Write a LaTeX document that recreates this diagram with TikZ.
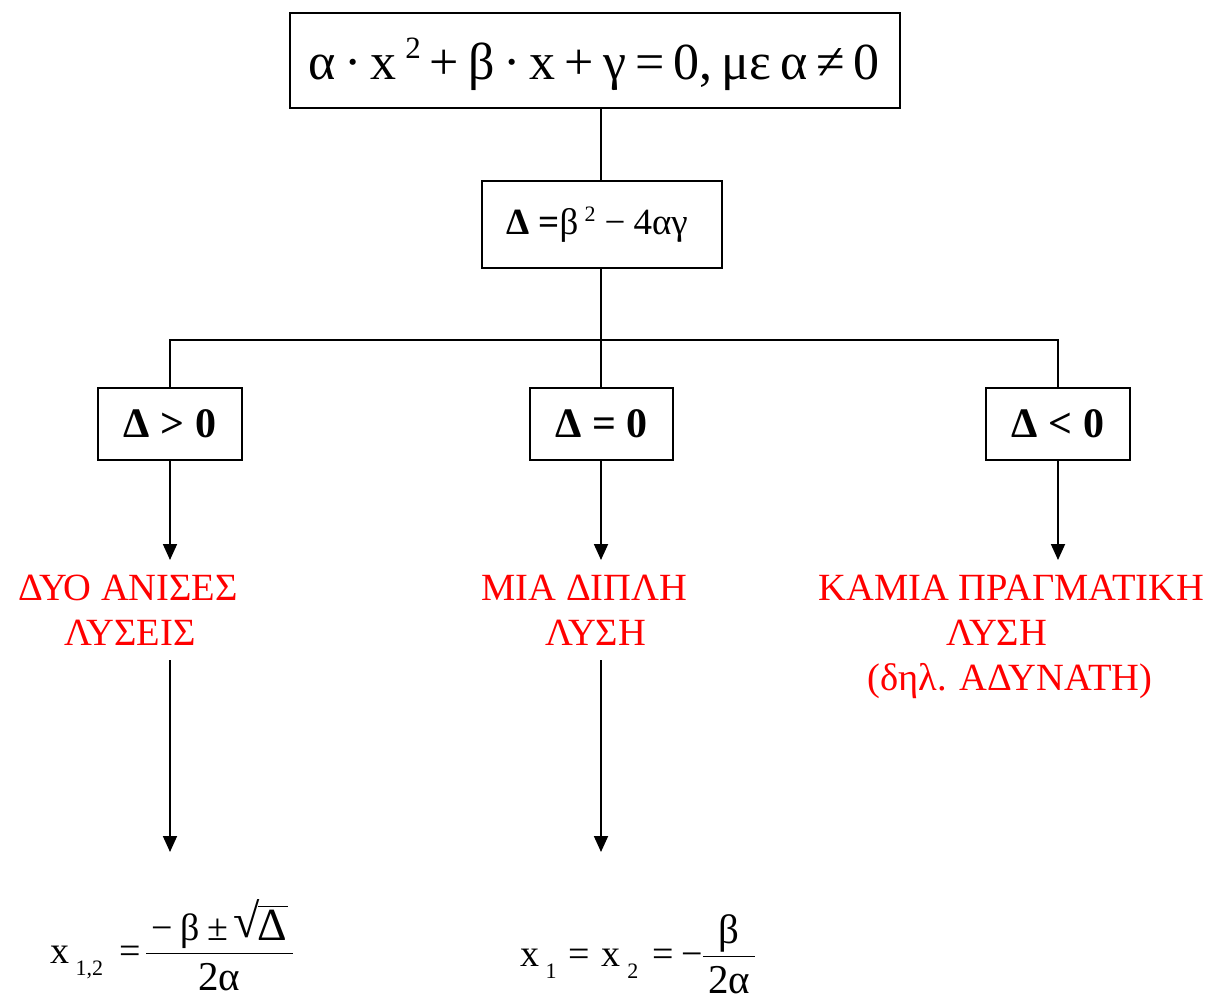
\documentclass[tikz,border=0pt]{standalone}
\usepackage{fontspec}
\setmainfont{Liberation Serif}
\usetikzlibrary{arrows.meta}
\newcommand{\fsz}[1]{\fontsize{#1}{#1}\selectfont}
% fraction built from boxes: numerator baseline 13pt above bar centre, denominator baseline 37pt below
\newcommand{\ffrac}[2]{{%
  \setbox0\hbox{#1}\setbox2\hbox{#2}%
  \dimen0=\wd0 \ifdim\wd2>\dimen0 \dimen0=\wd2 \fi
  \advance\dimen0 by 10pt
  \dp0=0pt \ht2=0pt
  \raisebox{-27.5pt}{\vbox{\hbox to\dimen0{\hss\box0\hss}\kern12.2pt
    \hrule height 1.5pt\kern36.2pt\hbox to\dimen0{\hss\box2\hss}}}}}
\newcommand{\ssub}[1]{\raisebox{-12pt}{\fsz{22}#1}}
\newcommand{\sroot}[1]{\raisebox{3pt}{\fsz{48}√}\kern-1.5pt\vbox{\hrule height 1.5pt\kern3pt\hbox{#1}}}
\newcommand{\gsp}{\hspace{9pt}}
\begin{document}
\begin{tikzpicture}[x=1pt,y=-1pt,
  box/.style={draw, line width=1.8pt, inner sep=0pt},
  conn/.style={line width=1.8pt},
  arr/.style={line width=1.8pt, -{Triangle[length=16pt,width=14pt]}},
  redtxt/.style={text=red, font=\fsz{38.5}, inner sep=0pt, anchor=base},
  formula/.style={font=\fsz{38}, inner sep=0pt, anchor=base west}]
\useasboundingbox (0,0) rectangle (1208,995);
% boxes
\node[box, minimum width=610pt, minimum height=95pt] (top) at (595,60.5) {};
\node[font=\fsz{52}, anchor=base, inner sep=0pt] (toptxt) at (594,80)
  {α\gsp·\gsp x\,\raisebox{21pt}{\fsz{31}2}\gsp+\gsp β\gsp·\gsp x\gsp+\gsp γ\gsp=\gsp 0,\gsp με\gsp α\gsp≠\gsp 0};
\node[box, minimum width=240pt, minimum height=87pt] (disc) at (602,224.5) {};
\node[font=\fsz{37}, anchor=base, inner sep=0pt] (disctxt) at (597,235)
  {{\bfseries Δ =}β\,\raisebox{13pt}{\fsz{22}2}\hspace{9pt}−\hspace{8pt}4αγ};
\node[box, minimum width=144pt, minimum height=72pt, font=\fsz{42}\bfseries] (b1) at (170,424) {Δ > 0};
\node[box, minimum width=143pt, minimum height=72pt, font=\fsz{42}\bfseries] (b2) at (601.5,424) {Δ = 0};
\node[box, minimum width=144pt, minimum height=72pt, font=\fsz{42}\bfseries] (b3) at (1058,424) {Δ < 0};
% connectors
\coordinate (j) at (601,340);
\draw[conn] (disc.north -| j) -- (top.south -| j);
\draw[conn] (disc.south -| j) -- (j);
\draw[conn] (b1.north) |- (j) -| (b3.north);
\draw[conn] (j) -- (b2.north -| j);
% red texts
\node[redtxt] (t1a) at (128,600) {ΔΥΟ ΑΝΙΣΕΣ};
\node[redtxt] (t1b) at (130,645) {ΛΥΣΕΙΣ};
\node[redtxt] (t2a) at (584.5,600) {ΜΙΑ ΔΙΠΛΗ};
\node[redtxt] (t2b) at (596,645) {ΛΥΣΗ};
\node[redtxt] (t3a) at (1011.5,600) {ΚΑΜΙΑ ΠΡΑΓΜΑΤΙΚΗ};
\node[redtxt] (t3b) at (997,645) {ΛΥΣΗ};
\node[redtxt] (t3c) at (1010,690) {(δηλ. ΑΔΥΝΑΤΗ)};
% arrow ends above the red texts
\coordinate (a1) at (170,560);
\coordinate (a2) at (601,560);
\coordinate (a3) at (1058,560);
\draw[arr] (b1.south) -- (a1);
\draw[arr] (b2.south -| j) -- (a2);
\draw[arr] (b3.south) -- (a3);
% formulas
\node[formula] (f1) at (50,963)
  {x\,\ssub{1,2}\hspace{16pt}=\hspace{6pt}\ffrac{−\hspace{8pt}β\hspace{7pt}±\hspace{5pt}\sroot{\fsz{46}Δ}}{\fsz{41}2α}};
\node[formula] (f2) at (520,966)
  {x\,\ssub{1}\hspace{12pt}=\hspace{12pt}x\,\ssub{2}\hspace{14pt}=\hspace{8pt}−\ffrac{\fsz{41}β}{\fsz{41}2α}};
\coordinate (f1top) at (170,852);
\coordinate (f2top) at (601,852);
\coordinate (s1) at (170,660);
\coordinate (s2) at (601,660);
\draw[arr] (s1) -- (f1top);
\draw[arr] (s2) -- (f2top);
\end{tikzpicture}
\end{document}
